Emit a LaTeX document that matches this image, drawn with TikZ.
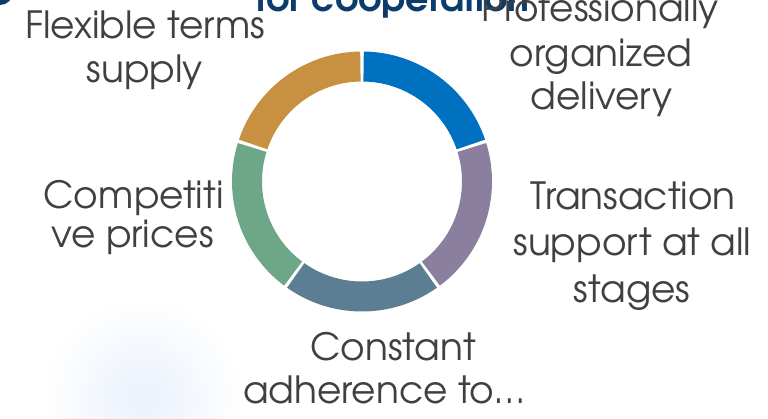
\documentclass[tikz,border=0pt]{standalone}
\usepackage{fontspec}
\setmainfont{texgyreadventor}[Extension=.otf, UprightFont=*-regular, BoldFont=*-bold]
\definecolor{txtgray}{HTML}{404040}
\definecolor{titleblue}{HTML}{0B3C6B}
\definecolor{glowblue}{HTML}{E9F1FB}
\definecolor{segblue}{HTML}{0070C0}
\definecolor{segpurple}{HTML}{8A7F9E}
\definecolor{segslate}{HTML}{5C7E92}
\definecolor{seggreen}{HTML}{6EA688}
\definecolor{seggold}{HTML}{C89041}
\begin{document}
\begin{tikzpicture}[x=1pt,y=1pt,
  lbl/.style={anchor=base, text=txtgray, inner sep=0pt, font=\fontsize{37.5}{44}\selectfont},
  ttl/.style={anchor=base, text=titleblue, inner sep=0pt, font=\bfseries\fontsize{36.5}{44}\selectfont}]
\useasboundingbox (0,0) rectangle (768,418);
\clip (0,0) rectangle (768,418);
\fill[white] (0,0) rectangle (768,418);
\shade[inner color=glowblue, outer color=white] (143,20) circle (100);
\fill[titleblue] (0,426) circle (13);
\node[ttl] (title) at (393,406) {for cooperation};
\coordinate (c) at (362,236.5);
\foreach \a/\col in {90/segblue, 18/segpurple, -54/segslate, -126/seggreen, -198/seggold}{
  \fill[\col] ([shift={(c)}]\a-0.8:130) arc[start angle=\a-0.8, end angle=\a-71.2, radius=130]
    -- ([shift={(c)}]\a-71.2:100) arc[start angle=\a-71.2, end angle=\a-0.8, radius=100] -- cycle;
}
\node[lbl] (flex1) at (145,379) {Flexible terms};
\node[lbl] (flex2) at (145,335) {supply};
\node[lbl] (prof1) at (600.5,396) {Professionally};
\node[lbl] (prof2) at (601,351) {organized};
\node[lbl] (prof3) at (601.5,308) {delivery};
\node[lbl] (trans1) at (633,208) {Transaction};
\node[lbl] (trans2) at (632.5,162) {support at all};
\node[lbl] (trans3) at (632,116) {stages};
\node[lbl] (const1) at (393,58) {Constant};
\node[lbl] (const2) at (384,15) {adherence to…};
\node[lbl] (comp1) at (133.5,209) {Competiti};
\node[lbl] (comp2) at (132.5,170) {ve prices};
\end{tikzpicture}
\end{document}
